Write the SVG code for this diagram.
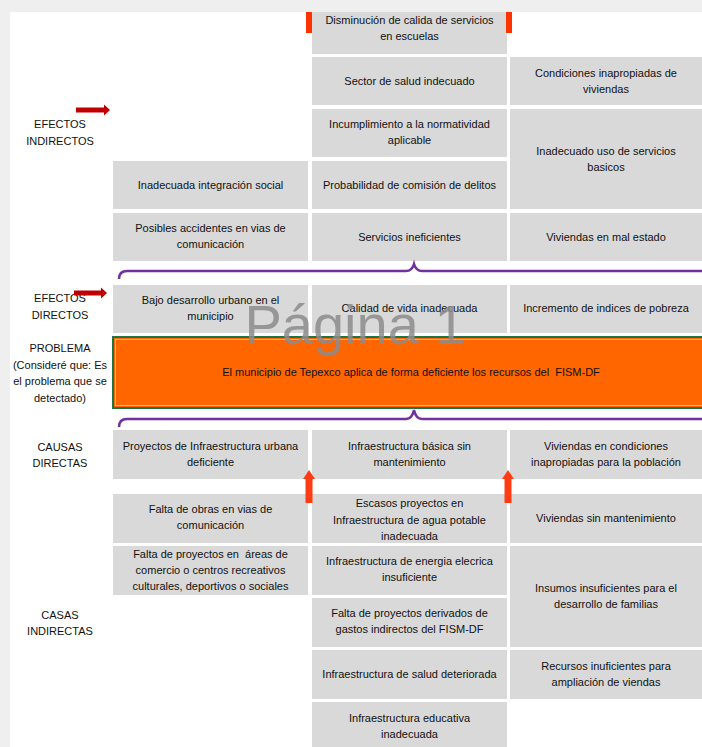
<svg xmlns="http://www.w3.org/2000/svg" width="702" height="747" viewBox="0 0 702 747">
<style>
.c{fill:#d9d9d9}
.t{font-family:"Liberation Sans",Arial,sans-serif;font-size:11px;fill:#111;text-anchor:middle;white-space:pre}
.l{font-family:"Liberation Sans",Arial,sans-serif;font-size:11px;fill:#111;text-anchor:middle;white-space:pre}
.br{fill:none;stroke:#7030a0;stroke-width:2.5}
.ra{fill:#c00000}
.ua{fill:#ff3d14}
</style>
<rect x="0" y="0" width="702" height="747" fill="#efefef"/>
<rect x="10" y="12" width="692" height="735" fill="#ffffff"/>

<g id="labels">
<text class="l" x="60" y="128">EFECTOS</text><text class="l" x="60" y="145">INDIRECTOS</text>
<text class="l" x="60" y="302">EFECTOS</text><text class="l" x="60" y="319">DIRECTOS</text>
<text class="l" x="60" y="352">PROBLEMA</text><text class="l" x="60" y="368.5">(Consideré que: Es</text><text class="l" x="60" y="385">el problema que se</text><text class="l" x="60" y="401.5">detectado)</text>
<text class="l" x="60" y="451">CAUSAS</text><text class="l" x="60" y="467">DIRECTAS</text>
<text class="l" x="60" y="619">CASAS</text><text class="l" x="60" y="635">INDIRECTAS</text>
</g>

<g id="n1"><rect class="c" x="312" y="12" width="195" height="42"/><text class="t" x="409.5" y="24">Disminución de calida de servicios</text><text class="t" x="409.5" y="40">en escuelas</text></g>
<g id="n2"><rect class="c" x="312" y="57" width="195" height="48"/><text class="t" x="409.5" y="85">Sector de salud indecuado</text></g>
<g id="n3"><rect class="c" x="510" y="57" width="200" height="48"/><text class="t" x="606" y="77">Condiciones inapropiadas de</text><text class="t" x="606" y="93">viviendas</text></g>
<g id="n4"><rect class="c" x="312" y="109" width="195" height="48"/><text class="t" x="409.5" y="128">Incumplimiento a la normatividad</text><text class="t" x="409.5" y="144">aplicable</text></g>
<g id="n5"><rect class="c" x="510" y="109" width="200" height="100"/><text class="t" x="606" y="155">Inadecuado uso de servicios</text><text class="t" x="606" y="171">basicos</text></g>
<g id="n6"><rect class="c" x="113" y="161" width="195" height="48"/><text class="t" x="210.5" y="189">Inadecuada integración social</text></g>
<g id="n7"><rect class="c" x="312" y="161" width="195" height="48"/><text class="t" x="409.5" y="189">Probabilidad de comisión de delitos</text></g>
<g id="n8"><rect class="c" x="113" y="213" width="195" height="48"/><text class="t" x="210.5" y="232">Posibles accidentes en vias de</text><text class="t" x="210.5" y="248">comunicación</text></g>
<g id="n9"><rect class="c" x="312" y="213" width="195" height="48"/><text class="t" x="409.5" y="241">Servicios ineficientes</text></g>
<g id="n10"><rect class="c" x="510" y="213" width="200" height="48"/><text class="t" x="606" y="241">Viviendas en mal estado</text></g>
<g id="n11"><rect class="c" x="113" y="285" width="195" height="48"/><text class="t" x="210.5" y="304">Bajo desarrollo urbano en el</text><text class="t" x="210.5" y="320">municipio</text></g>
<g id="n12"><rect class="c" x="312" y="285" width="195" height="48"/><text class="t" x="409.5" y="312">Calidad de vida inadecuada</text></g>
<g id="n13"><rect class="c" x="510" y="285" width="200" height="48"/><text class="t" x="606" y="312">Incremento de indices de pobreza</text></g>
<g id="problem"><rect x="113" y="337" width="600" height="71" fill="#ff6600" stroke="#217346" stroke-width="2"/><rect x="115.5" y="339.5" width="600" height="66" fill="none" stroke="#f9b48a" stroke-width="1"/><text class="t" x="411" y="376">El municipio de Tepexco aplica de forma deficiente los recursos del  FISM-DF</text></g>
<g id="n14"><rect class="c" x="113" y="430" width="195" height="49"/><text class="t" x="210.5" y="450">Proyectos de Infraestructura urbana</text><text class="t" x="210.5" y="466">deficiente</text></g>
<g id="n15"><rect class="c" x="312" y="430" width="195" height="49"/><text class="t" x="409.5" y="450">Infraestructura básica sin</text><text class="t" x="409.5" y="466">mantenimiento</text></g>
<g id="n16"><rect class="c" x="510" y="430" width="200" height="49"/><text class="t" x="606" y="450">Viviendas en condiciones</text><text class="t" x="606" y="466">inapropiadas para la población</text></g>
<g id="n17"><rect class="c" x="113" y="494" width="195" height="49"/><text class="t" x="210.5" y="513">Falta de obras en vias de</text><text class="t" x="210.5" y="529">comunicación</text></g>
<g id="n18"><rect class="c" x="312" y="494" width="195" height="49"/><text class="t" x="409.5" y="507">Escasos proyectos en</text><text class="t" x="409.5" y="523.5">Infraestructura de agua potable</text><text class="t" x="409.5" y="540">inadecuada</text></g>
<g id="n19"><rect class="c" x="510" y="494" width="200" height="49"/><text class="t" x="606" y="522">Viviendas sin mantenimiento</text></g>
<g id="n20"><rect class="c" x="113" y="546" width="195" height="49"/><text class="t" x="210.5" y="558">Falta de proyectos en  áreas de</text><text class="t" x="210.5" y="574">comercio o centros recreativos</text><text class="t" x="210.5" y="590">culturales, deportivos o sociales</text></g>
<g id="n21"><rect class="c" x="312" y="546" width="195" height="49"/><text class="t" x="409.5" y="565">Infraestructura de energia elecrica</text><text class="t" x="409.5" y="581">insuficiente</text></g>
<g id="n22"><rect class="c" x="510" y="546" width="200" height="101"/><text class="t" x="606" y="592">Insumos insuficientes para el</text><text class="t" x="606" y="608">desarrollo de familias</text></g>
<g id="n23"><rect class="c" x="312" y="598" width="195" height="49"/><text class="t" x="409.5" y="617">Falta de proyectos derivados de</text><text class="t" x="409.5" y="633">gastos indirectos del FISM-DF</text></g>
<g id="n24"><rect class="c" x="312" y="650" width="195" height="49"/><text class="t" x="409.5" y="678">Infraestructura de salud deteriorada</text></g>
<g id="n25"><rect class="c" x="510" y="650" width="200" height="49"/><text class="t" x="606" y="670">Recursos inuficientes para</text><text class="t" x="606" y="686">ampliación de viendas</text></g>
<g id="n26"><rect class="c" x="312" y="702" width="195" height="50"/><text class="t" x="409.5" y="722">Infraestructura educativa</text><text class="t" x="409.5" y="738">inadecuada</text></g>

<g id="connectors">
<rect x="306" y="12" width="6" height="21" fill="#ff3300"/>
<rect x="506" y="12" width="6" height="21" fill="#ff3300"/>
<path class="br" d="M119,279 Q119,271 127,271 L406,271 Q412,271 414,264 Q416,271 422,271 L710,271"/>
<path class="br" d="M119,427 Q119,419 127,419 L406,419 Q412,419 414,410 Q416,419 422,419 L710,419"/>
<polygon class="ra" points="76,107.5 104,107.5 104,104.5 110,110 104,115.5 104,112.5 76,112.5"/>
<polygon class="ra" points="74,290.5 101,290.5 101,287.5 107,293 101,298.5 101,295.5 74,295.5"/>
<polygon class="ua" points="305.5,503 305.5,479 303,479 309,470 315,479 312.5,479 312.5,503"/>
<polygon class="ua" points="504.5,503 504.5,479 502,479 508,470 514,479 511.5,479 511.5,503"/>
</g>

<text x="355" y="344" font-family="'Liberation Sans',Arial,sans-serif" font-size="56" text-anchor="middle" fill="#8c8c8c" opacity="0.85">Página 1</text>
</svg>
